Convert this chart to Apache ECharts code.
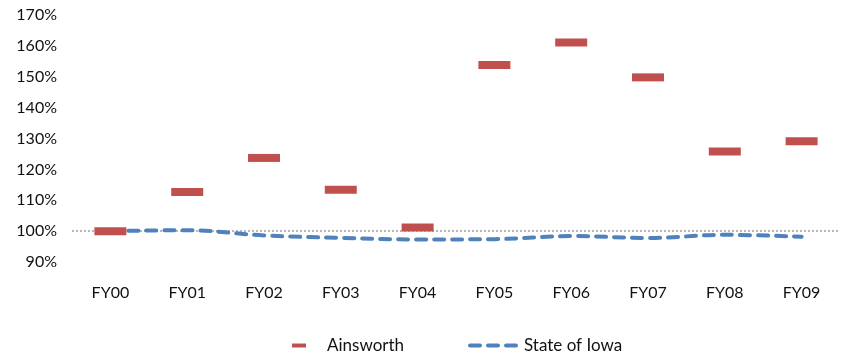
<!DOCTYPE html>
<html>
<head>
<meta charset="utf-8">
<script src="https://cdn.jsdelivr.net/npm/echarts@6/dist/echarts.min.js"></script>
<style>html,body{margin:0;padding:0;background:#fff}#c{width:846px;height:354px}</style>
</head>
<body>
<div id="c"></div>
<script>
const categories = ['FY00','FY01','FY02','FY03','FY04','FY05','FY06','FY07','FY08','FY09'];
const ainsworth = [100, 112.7, 123.7, 113.4, 101.2, 153.8, 161.1, 149.8, 125.8, 129.1];
const stateOfIowa = [100, 100.3, 98.6, 97.8, 97.3, 97.4, 98.4, 97.8, 98.8, 98.2];
const baseline = 100;

const font = 'Lato, "Open Sans", sans-serif';
const chart = echarts.init(document.getElementById('c'));
chart.setOption({
  animation: false,
  grid: { left: 72, right: 6, top: 15, bottom: 92 },
  xAxis: {
    type: 'category', data: categories, boundaryGap: true,
    axisLine: { show: false }, axisTick: { show: false },
    axisLabel: { margin: 23, color: '#111', fontSize: 16, fontFamily: font }
  },
  yAxis: {
    type: 'value', min: 90, max: 170, interval: 10,
    axisLine: { show: false }, axisTick: { show: false }, splitLine: { show: false },
    axisLabel: { margin: 15, color: '#111', fontSize: 16, fontFamily: font, formatter: '{value}%' }
  },
  legend: [
    { data: ['Ainsworth'], left: 287, top: 332, itemWidth: 14, itemHeight: 4,
      textStyle: { fontSize: 17, fontFamily: font, color: '#111', padding: [0,0,0,16] } },
    { data: ['State of Iowa'], left: 463, top: 332, itemWidth: 48, itemHeight: 4, itemGap: 0,
      lineStyle: { width: 4, type: [10, 8], cap: 'round', color: '#4F81BD' },
      textStyle: { fontSize: 17, fontFamily: font, color: '#111', padding: [0,0,0,1] } }
  ],
  series: [
    { name: 'Ainsworth', type: 'scatter', data: ainsworth, symbol: 'rect', symbolSize: [32, 8],
      itemStyle: { color: '#C0504D', opacity: 1 }, z: 4 },
    { name: 'State of Iowa', type: 'line', data: stateOfIowa, smooth: 0.35, symbol: 'none', showSymbol: false,
      lineStyle: { color: '#4F81BD', width: 4, type: [10, 8], cap: 'round' },
      itemStyle: { color: '#4F81BD' }, z: 3,
      markLine: { silent: true, symbol: 'none', label: { show: false },
        lineStyle: { color: '#A0A0A0', type: [2, 2], width: 1.5 },
        data: [{ yAxis: baseline }], z: 1 } }
  ]
});
</script>
</body>
</html>
